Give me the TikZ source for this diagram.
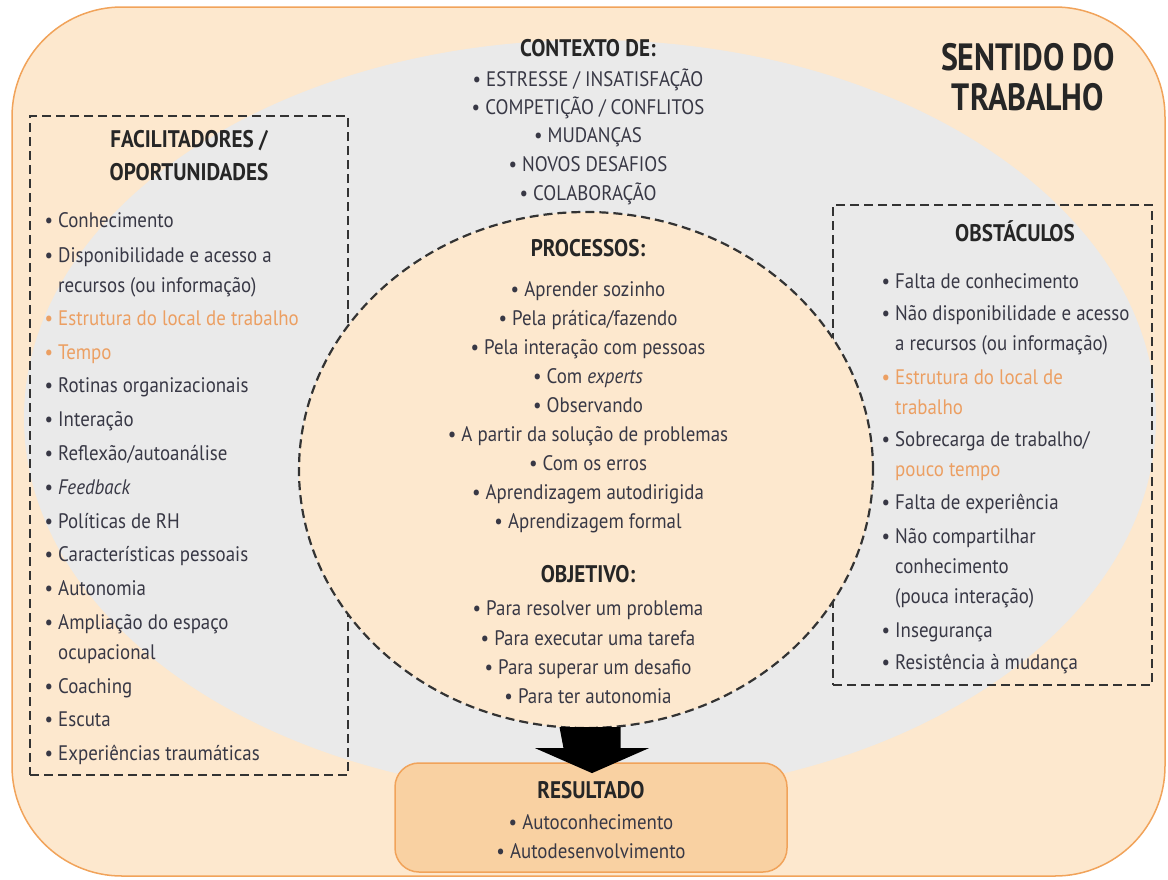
\documentclass[tikz,border=0pt]{standalone}
\usepackage{fontspec}
\setmainfont{PT Sans}[FakeStretch=0.9]
\newfontfamily\headfont{PT Sans}[FakeStretch=0.88]
\newfontfamily\titlefont{PT Sans}[FakeStretch=0.84]
\usetikzlibrary{shapes.geometric}

\definecolor{peach}{HTML}{FDE8CE}
\definecolor{peachline}{HTML}{F1A35A}
\definecolor{greyfill}{HTML}{EAEAEA}
\definecolor{resfill}{HTML}{F9D1A2}
\definecolor{txt}{HTML}{383845}
\definecolor{headtxt}{HTML}{262626}
\definecolor{orangetxt}{HTML}{EC9F62}

\newcommand{\bl}{\llap{\textbullet\ }}

\begin{document}
\begin{tikzpicture}[x=1pt, y=-1pt,
    every node/.style={inner sep=0pt, text=txt, font=\fontsize{21}{25}\selectfont},
    head/.style={anchor=base, text=headtxt, font=\headfont\bfseries\fontsize{24}{28}\selectfont},
    item/.style={anchor=base west},
    citem/.style={anchor=base},
    dashbox/.style={draw=black!80, line width=1.8pt, dash pattern=on 9pt off 5pt},
    procs/.style={ellipse, fill=peach, dashbox, line width=2.2pt},
    resbox/.style={draw=peachline, fill=resfill, line width=1.5pt, rounded corners=24pt}]
    \useasboundingbox (0,0) rectangle (1168,879);

    % Background
    \draw[fill=peach, draw=peachline, line width=1.5pt, rounded corners=110pt] (12,7) rectangle (1165,876);
    \fill[greyfill] (590,418) ellipse [x radius=566, y radius=378];

    % Boxes
    \node[dashbox, minimum width=318, minimum height=659] (facbox) at (189,445.5) {};
    \node[dashbox, minimum width=319, minimum height=480] (obsbox) at (992.5,445) {};
    \node[procs, minimum width=574, minimum height=516] (proc) at (586,470) {};
    \node[resbox, minimum width=392, minimum height=109] (res) at (591,817.5) {};

    % Arrow
    \fill[black] ([xshift=4pt]proc.south) ++(-30.5,-2) -- ++(61,0) -- ++(0,21) -- ++(28.5,0)
        -- ++(-57,25) -- ++(-57,-25) -- ++(28.5,0) -- cycle;

    % Title
    \node[head, font=\titlefont\bfseries\fontsize{38}{40}\selectfont] (title) at (1028,70) {SENTIDO DO};
    \node[head, font=\titlefont\bfseries\fontsize{38}{40}\selectfont] (title2) at (1028,110) {TRABALHO};

    % Contexto
    \node[head] (ctx) at (588,56) {CONTEXTO DE:};
    \foreach \y/\t [count=\i] in {86/{ESTRESSE / INSATISFAÇÃO}, 114/{COMPETIÇÃO / CONFLITOS},
        142/MUDANÇAS, 171/NOVOS DESAFIOS, 200/COLABORAÇÃO}
        \node[citem] (ctx\i) at (588,\y) {\textbullet\ \t};

    % Processos
    \node[head] (prc) at (588,256) {PROCESSOS:};
    \foreach \y/\t [count=\i] in {296/Aprender sozinho, 325/{Pela prática/fazendo},
        354/Pela interação com pessoas, 383/{Com \textit{experts}}, 412/Observando,
        441/A partir da solução de problemas, 470/Com os erros,
        499/Aprendizagem autodirigida, 528/Aprendizagem formal}
        \node[citem] (prc\i) at (588,\y) {\textbullet\ \t};

    % Objetivo
    \node[head] (obj) at (588,582) {OBJETIVO:};
    \foreach \y/\t [count=\i] in {615/Para resolver um problema, 645/Para executar uma tarefa,
        674/Para superar um desafio, 703/Para ter autonomia}
        \node[citem] (obj\i) at (588,\y) {\textbullet\ \t};

    % Resultado
    \node[head] (rst) at (591,798) {RESULTADO};
    \foreach \y/\t [count=\i] in {829/Autoconhecimento, 858/Autodesenvolvimento}
        \node[citem] (rst\i) at (591,\y) {\textbullet\ \t};

    % Facilitadores
    \node[head] (fac) at (189,147) {FACILITADORES /};
    \node[head] (fac0) at (189,180) {OPORTUNIDADES};
    \foreach \y/\t [count=\i] in {227/\bl Conhecimento, 262/\bl Disponibilidade e acesso a,
        292/recursos (ou informação), 325/{\color{orangetxt}\bl Estrutura do local de trabalho},
        359/{\color{orangetxt}\bl Tempo}, 392/\bl Rotinas organizacionais, 426/\bl Interação,
        460/{\bl Reflexão/autoanálise}, 494/{\bl\textit{Feedback}}, 528/\bl Políticas de RH,
        561/\bl Características pessoais, 595/\bl Autonomia, 629/\bl Ampliação do espaço,
        659/ocupacional, 693/\bl Coaching, 726/\bl Escuta, 760/\bl Experiências traumáticas}
        \node[item] (fac\i) at (58,\y) {\t};

    % Obstaculos
    \node[head] (obs) at (1015,241) {OBSTÁCULOS};
    \foreach \y/\t [count=\i] in {288/\bl Falta de conhecimento, 320/\bl Não disponibilidade e acesso,
        350/a recursos (ou informação), 384/{\color{orangetxt}\bl Estrutura do local de},
        414/{\color{orangetxt}trabalho}, 446/{\bl Sobrecarga de trabalho/},
        476/{\color{orangetxt}pouco tempo}, 509/\bl Falta de experiência,
        543/\bl Não compartilhar, 573/conhecimento, 603/(pouca interação),
        637/\bl Insegurança, 669/\bl Resistência à mudança}
        \node[item] (obs\i) at (895,\y) {\t};
\end{tikzpicture}
\end{document}
